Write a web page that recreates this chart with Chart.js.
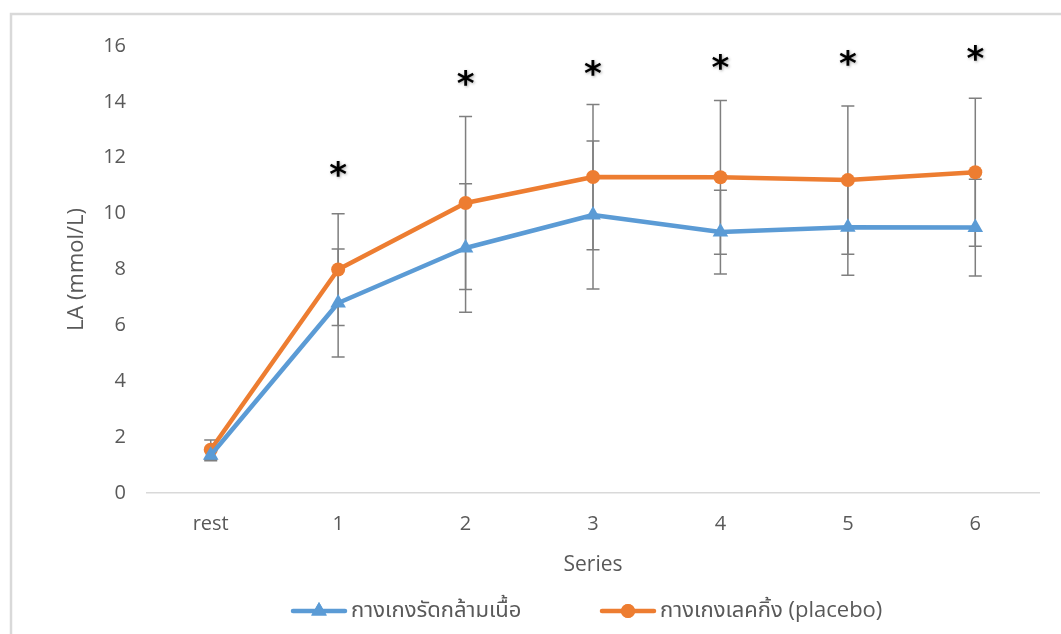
<!DOCTYPE html>
<html>
<head>
<meta charset="utf-8">
<script src="https://cdn.jsdelivr.net/npm/chart.js@4.4.1/dist/chart.umd.min.js"></script>
<style>
  html, body { margin: 0; padding: 0; background: #ffffff; }
  #wrap { width: 1061px; height: 634px; position: relative; }
</style>
</head>
<body>
<div id="wrap"><canvas id="c"></canvas></div>
<script>
// Blood lactate (mmol/L) at rest and after each exercise series
const categories = ['rest', '1', '2', '3', '4', '5', '6'];
const seriesNames = ['กางเกงรัดกล้ามเนื้อ', 'กางเกงเลคกิ้ง (placebo)'];

const compressionMean = [1.35, 6.8, 8.77, 9.95, 9.34, 9.51, 9.5];
const compressionSD   = [0.2, 1.93, 2.3, 2.65, 1.5, 1.72, 1.73];

const placeboMean = [1.55, 8.0, 10.38, 11.31, 11.3, 11.2, 11.48];
const placeboSD   = [0.35, 2.0, 3.1, 2.6, 2.75, 2.65, 2.65];

// height (in mmol/L) at which each significance star sits
const significanceY = [null, 11.6, 14.85, 15.21, 15.44, 15.56, 15.75];

const yMin = 0, yMax = 16, yStep = 2;

const BLUE = '#5B9BD5';
const ORANGE = '#ED7D31';
const TEXT = '#595959';
const FONT = "'Open Sans', 'Noto Sans Thai', 'Noto Sans', sans-serif";

// light frame around the whole figure
const framePlugin = {
  id: 'frame',
  beforeDraw(chart) {
    const ctx = chart.ctx;
    ctx.save();
    ctx.fillStyle = '#ffffff';
    ctx.fillRect(0, 0, chart.width, chart.height);
    ctx.strokeStyle = '#d9d9d9';
    ctx.lineWidth = 2.5;
    ctx.strokeRect(11, 14, chart.width + 20, chart.height + 20);
    ctx.restore();
  }
};

// mean ± SD whiskers
const errorBarPlugin = {
  id: 'errorBars',
  beforeDatasetsDraw(chart) {
    const ctx = chart.ctx;
    const xs = chart.scales.x, ys = chart.scales.y;
    const sets = [[compressionMean, compressionSD], [placeboMean, placeboSD]];
    ctx.save();
    ctx.strokeStyle = '#7f7f7f';
    ctx.lineWidth = 1.5;
    const cap = 6.5;
    sets.forEach(([means, sds]) => {
      means.forEach((m, i) => {
        const x = xs.getPixelForValue(i);
        const yTop = ys.getPixelForValue(m + sds[i]);
        const yBot = ys.getPixelForValue(m - sds[i]);
        ctx.beginPath();
        ctx.moveTo(x, yTop); ctx.lineTo(x, yBot);
        ctx.moveTo(x - cap, yTop); ctx.lineTo(x + cap, yTop);
        ctx.moveTo(x - cap, yBot); ctx.lineTo(x + cap, yBot);
        ctx.stroke();
      });
    });
    ctx.restore();
  }
};

// significance stars above each series
const starPlugin = {
  id: 'stars',
  afterDatasetsDraw(chart) {
    const ctx = chart.ctx;
    const xs = chart.scales.x, ys = chart.scales.y;
    ctx.save();
    ctx.font = "bold 34px 'DejaVu Sans', sans-serif";
    ctx.fillStyle = '#000000';
    ctx.textAlign = 'center';
    ctx.textBaseline = 'alphabetic';
    ctx.shadowColor = 'rgba(0,0,0,0.35)';
    ctx.shadowBlur = 3;
    ctx.shadowOffsetX = 1;
    ctx.shadowOffsetY = 1;
    const m = ctx.measureText('*');
    const shift = (m.actualBoundingBoxAscent - m.actualBoundingBoxDescent) / 2;
    significanceY.forEach((v, i) => {
      if (v === null) return;
      const x = xs.getPixelForValue(i);
      const y = ys.getPixelForValue(v);
      ctx.fillText('*', x, y + shift);
    });
    ctx.restore();
  }
};

// legend: line sample with marker, then the series name
const legendPlugin = {
  id: 'lineLegend',
  afterDraw(chart) {
    const ctx = chart.ctx;
    const y = 611;
    const items = [
      { name: seriesNames[0], color: BLUE, marker: 'triangle', x: 291 },
      { name: seriesNames[1], color: ORANGE, marker: 'circle', x: 600 }
    ];
    ctx.save();
    items.forEach(it => {
      ctx.strokeStyle = it.color;
      ctx.fillStyle = it.color;
      ctx.lineWidth = 4.5;
      ctx.lineCap = 'round';
      ctx.beginPath();
      ctx.moveTo(it.x + 2, y);
      ctx.lineTo(it.x + 54, y);
      ctx.stroke();
      Chart.helpers.drawPoint(ctx, { pointStyle: it.marker, radius: it.marker === 'circle' ? 7 : 9, rotation: 0, borderWidth: 0 }, it.x + 28, y);
      ctx.fill();
      ctx.fillStyle = TEXT;
      ctx.font = '22px ' + FONT;
      ctx.textAlign = 'left';
      ctx.textBaseline = 'middle';
      ctx.fillText(it.name, it.x + 60, y);
    });
    ctx.restore();
  }
};

new Chart(document.getElementById('c'), {
  type: 'line',
  data: {
    labels: categories,
    datasets: [
      {
        label: seriesNames[0],
        data: compressionMean,
        borderColor: BLUE,
        backgroundColor: BLUE,
        borderWidth: 4.5,
        borderJoinStyle: 'round',
        borderCapStyle: 'round',
        pointStyle: 'triangle',
        pointRadius: 9,
        pointBorderWidth: 0,
        pointBackgroundColor: BLUE,
        tension: 0
      },
      {
        label: seriesNames[1],
        data: placeboMean,
        borderColor: ORANGE,
        backgroundColor: ORANGE,
        borderWidth: 4.5,
        borderJoinStyle: 'round',
        borderCapStyle: 'round',
        pointStyle: 'circle',
        pointRadius: 7,
        pointBorderWidth: 0,
        pointBackgroundColor: ORANGE,
        tension: 0
      }
    ]
  },
  options: {
    responsive: true,
    maintainAspectRatio: false,
    devicePixelRatio: 1,
    animation: false,
    layout: { padding: { top: 46, right: 22, bottom: 0, left: 0 } },
    plugins: {
      legend: { display: false },
      tooltip: { enabled: false }
    },
    scales: {
      x: {
        offset: true,
        grid: { display: false, drawTicks: false },
        border: { display: true, color: '#d9d9d9', width: 1.5 },
        ticks: { color: TEXT, font: { family: FONT, size: 20 }, padding: 19 },
        title: {
          display: true, text: 'Series', color: TEXT,
          font: { family: FONT, size: 21 }, padding: { top: 0, bottom: 56 }
        },
        afterFit(scale) { scale.height = 141; }
      },
      y: {
        min: yMin, max: yMax,
        grid: { display: false, drawTicks: false },
        border: { display: false },
        ticks: { stepSize: yStep, color: TEXT, font: { family: FONT, size: 20 }, padding: 21 },
        title: {
          display: true, text: 'LA (mmol/L)', color: TEXT,
          font: { family: FONT, size: 22 }, padding: { top: 64, bottom: 0 }
        },
        afterFit(scale) { scale.width = 147; }
      }
    }
  },
  plugins: [framePlugin, errorBarPlugin, starPlugin, legendPlugin]
});
</script>
</body>
</html>
